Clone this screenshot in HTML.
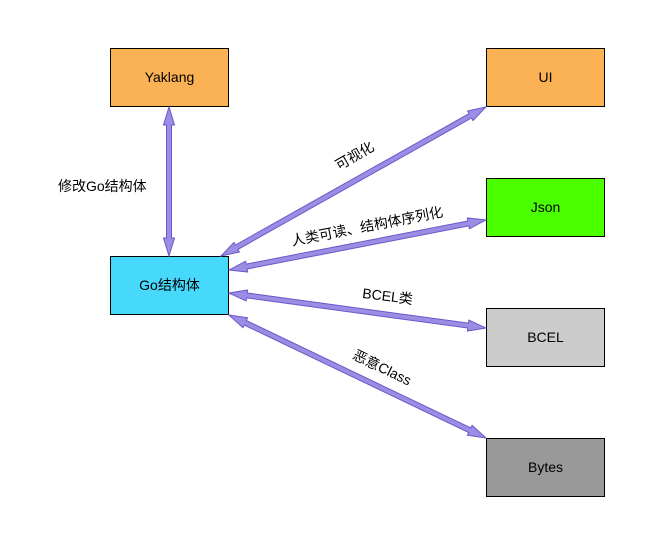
<!DOCTYPE html>
<html><head><meta charset="utf-8"><style>
body{margin:0;background:#fff;}
svg text{font-family:"Liberation Sans","Noto Sans CJK SC",sans-serif;font-size:14px;fill:#000;}
</style></head><body>
<svg id="s" width="648" height="543" viewBox="0 0 648 543" xmlns="http://www.w3.org/2000/svg">
<rect x="110.5" y="48.5" width="118" height="58" fill="#fbb254" stroke="#000"/>
<text x="169.5" y="82" text-anchor="middle">Yaklang</text>
<rect x="486.5" y="48.5" width="118" height="58" fill="#fbb254" stroke="#000"/>
<text x="545.5" y="82" text-anchor="middle">UI</text>
<rect x="486.5" y="178.5" width="118" height="58" fill="#4cff00" stroke="#000"/>
<text x="545.5" y="212" text-anchor="middle">Json</text>
<rect x="110.5" y="256.5" width="118" height="58" fill="#46d9fc" stroke="#000"/>
<text x="169.5" y="290" text-anchor="middle">Go结构体</text>
<rect x="486.5" y="308.5" width="118" height="58" fill="#cccccc" stroke="#000"/>
<text x="545.5" y="342" text-anchor="middle">BCEL</text>
<rect x="486.5" y="438.5" width="118" height="58" fill="#999999" stroke="#000"/>
<text x="545.5" y="472" text-anchor="middle">Bytes</text>
<g id="arrows"></g>
<text x="58" y="191">修改Go结构体</text>
<text transform="translate(357,160) rotate(-30)" text-anchor="middle">可视化</text>
<text transform="translate(368,231) rotate(-11)" text-anchor="middle">人类可读、结构体序列化</text>
<text transform="translate(387,301) rotate(7)" text-anchor="middle">BCEL类</text>
<text transform="translate(380,372) rotate(26)" text-anchor="middle">恶意Class</text>
</svg>
<script>
function arr(x1,y1,x2,y2){
 var dx=x2-x1,dy=y2-y1,L=Math.hypot(dx,dy),ux=dx/L,uy=dy/L,px=-uy,py=ux;
 var w=2.5,hw=5.5,hl=18;
 function P(t,o){return (x1+ux*t+px*o).toFixed(1)+","+(y1+uy*t+py*o).toFixed(1);}
 var pts=[P(0,0),P(hl,hw),P(hl,w),P(L-hl,w),P(L-hl,hw),P(L,0),P(L-hl,-hw),P(L-hl,-w),P(hl,-w),P(hl,-hw)];
 var p=document.createElementNS("http://www.w3.org/2000/svg","polygon");
 p.setAttribute("points",pts.join(" "));
 p.setAttribute("fill","#9c8ce4");p.setAttribute("stroke","#6a58c8");p.setAttribute("stroke-width","1");
 document.getElementById("arrows").appendChild(p);
}
arr(169,107,169,256);
arr(221,256,486,107);
arr(229,270,486,220);
arr(229,293,486,328);
arr(229,315,486,438);
</script>
</body></html>
